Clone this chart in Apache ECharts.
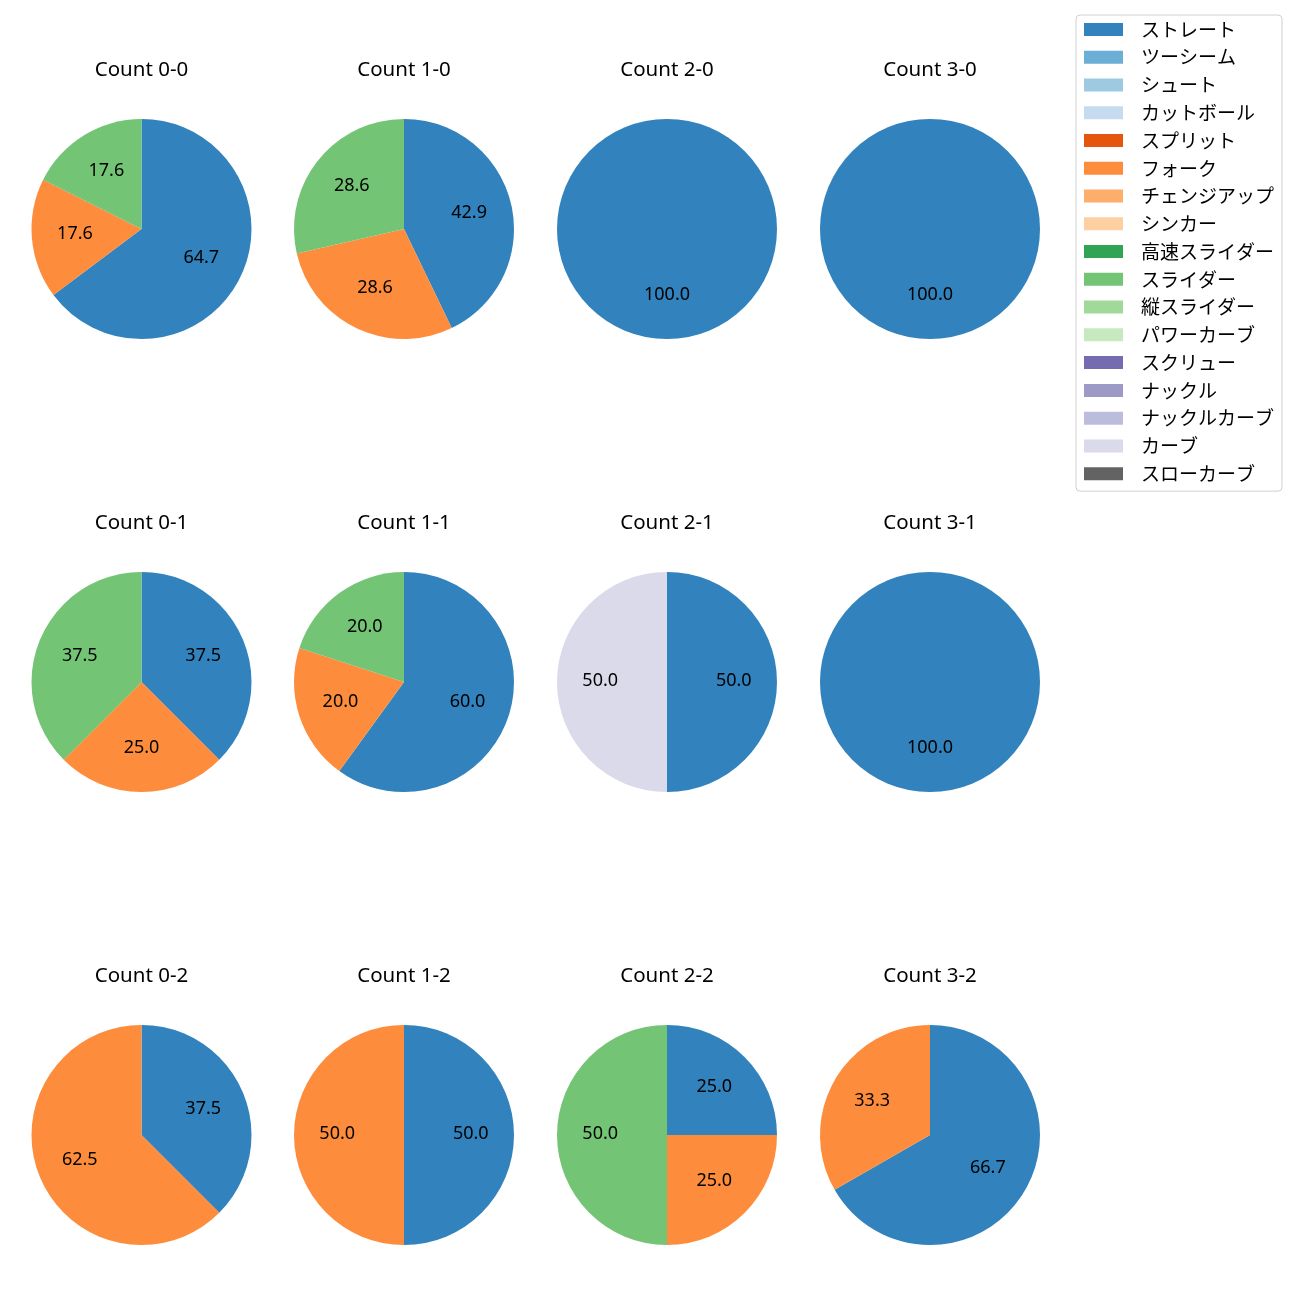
<!DOCTYPE html>
<html><head><meta charset="utf-8">
<script src="https://cdn.jsdelivr.net/npm/echarts@6/dist/echarts.min.js"></script>
<style>html,body{margin:0;padding:0;background:#fff}#c{width:1300px;height:1300px}</style>
</head><body><div id="c"></div>
<script>
const pitchTypes = ['ストレート','ツーシーム','シュート','カットボール','スプリット','フォーク','チェンジアップ','シンカー','高速スライダー','スライダー','縦スライダー','パワーカーブ','スクリュー','ナックル','ナックルカーブ','カーブ','スローカーブ'];
const countTitles = ['Count 0-0','Count 1-0','Count 2-0','Count 3-0','Count 0-1','Count 1-1','Count 2-1','Count 3-1','Count 0-2','Count 1-2','Count 2-2','Count 3-2'];
// share (%) per pitch type, in pitchTypes order
const count00 = [64.7,0,0,0,0,17.6,0,0,0,17.6,0,0,0,0,0,0,0];
const count10 = [42.9,0,0,0,0,28.6,0,0,0,28.6,0,0,0,0,0,0,0];
const count20 = [100,0,0,0,0,0,0,0,0,0,0,0,0,0,0,0,0];
const count30 = [100,0,0,0,0,0,0,0,0,0,0,0,0,0,0,0,0];
const count01 = [37.5,0,0,0,0,25.0,0,0,0,37.5,0,0,0,0,0,0,0];
const count11 = [60.0,0,0,0,0,20.0,0,0,0,20.0,0,0,0,0,0,0,0];
const count21 = [50.0,0,0,0,0,0,0,0,0,0,0,0,0,0,0,50.0,0];
const count31 = [100,0,0,0,0,0,0,0,0,0,0,0,0,0,0,0,0];
const count02 = [37.5,0,0,0,0,62.5,0,0,0,0,0,0,0,0,0,0,0];
const count12 = [50.0,0,0,0,0,50.0,0,0,0,0,0,0,0,0,0,0,0];
const count22 = [25.0,0,0,0,0,25.0,0,0,0,50.0,0,0,0,0,0,0,0];
const count32 = [66.7,0,0,0,0,33.3,0,0,0,0,0,0,0,0,0,0,0];
const allCounts = [count00,count10,count20,count30,count01,count11,count21,count31,count02,count12,count22,count32];

const palette = ['#3182bd','#6baed6','#9ecae1','#c6dbef','#e6550d','#fd8d3c','#fdae6b','#fdd0a2','#31a354','#74c476','#a1d99b','#c7e9c0','#756bb1','#9e9ac8','#bcbddc','#dadaeb','#636363'];
const colX = [141.5, 404, 667, 930];
const rowY = [229, 682, 1135];
const R = 110;
const JFONT = '"Noto Sans CJK JP", "Noto Sans", sans-serif';
const LFONT = '"Noto Sans", sans-serif';

const chart = echarts.init(document.getElementById('c'), null, {renderer:'canvas'});
const titles = [], visSeries = [], labSeries = [];
allCounts.forEach((vals, i) => {
  const cx = colX[i % 4], cy = rowY[Math.floor(i / 4)];
  titles.push({text: countTitles[i], left: cx, top: cy - 169, textAlign: 'center', padding: 0,
    textStyle: {fontFamily: LFONT, fontSize: 20.5, fontWeight: 'normal', color: '#000'}});
  const mk = (transparent) => pitchTypes.map((n, k) => ({name: n, value: vals[k],
    itemStyle: {color: transparent ? 'rgba(0,0,0,0)' : palette[k]}}));
  visSeries.push({type: 'pie', center: [cx, cy], radius: R, startAngle: 90, clockwise: true,
    silent: true, animation: false, label: {show: false}, labelLine: {show: false},
    emphasis: {disabled: true}, data: mk(false)});
  labSeries.push({type: 'pie', center: [cx, cy], radius: R * 1.16, startAngle: 90, clockwise: true,
    silent: true, animation: false, avoidLabelOverlap: false, labelLine: {show: false},
    emphasis: {disabled: true}, legendHoverLink: false,
    label: {show: true, position: 'inside', fontFamily: LFONT, fontSize: 18, color: '#000', offset: [0, -1],
      formatter: p => p.value > 0 ? p.value.toFixed(1) : ''},
    data: mk(true)});
});

chart.setOption({
  backgroundColor: '#fff',
  title: titles,
  legend: {orient: 'vertical', left: 1076, top: 15, data: pitchTypes,
    padding: [5, 8, 8, 8], borderColor: '#d0d0d0', borderWidth: 1, borderRadius: 4,
    itemWidth: 39, itemHeight: 13, itemGap: 8.76, icon: 'rect', selectedMode: false,
    textStyle: {fontFamily: JFONT, fontSize: 19, color: '#000', padding: [0, 0, 0, 13], lineHeight: 19}},
  series: visSeries.concat(labSeries)
});
</script></body></html>
